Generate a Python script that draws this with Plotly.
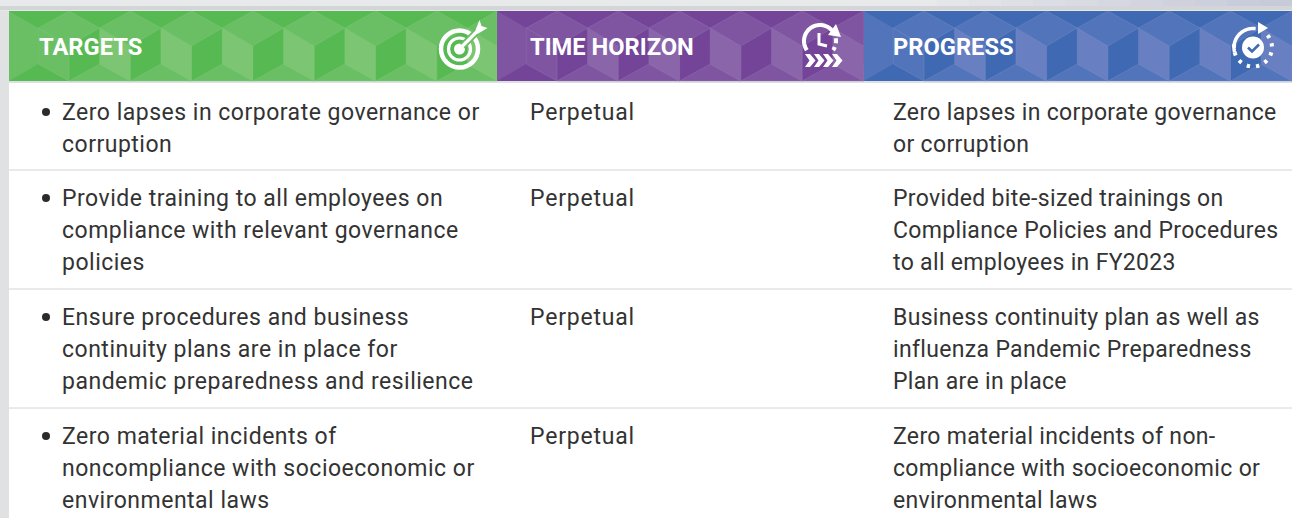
import json
import numpy as np
import plotly.graph_objects as go

# ---------- data ----------
headers = ["TARGETS", "TIME HORIZON", "PROGRESS"]
targets = [
    ["Zero lapses in corporate governance or", "corruption"],
    ["Provide training to all employees on", "compliance with relevant governance", "policies"],
    ["Ensure procedures and business", "continuity plans are in place for", "pandemic preparedness and resilience"],
    ["Zero material incidents of", "noncompliance with socioeconomic or", "environmental laws"],
]
horizons = ["Perpetual", "Perpetual", "Perpetual", "Perpetual"]
progress = [
    ["Zero lapses in corporate governance", "or corruption"],
    ["Provided bite-sized trainings on", "Compliance Policies and Procedures", "to all employees in FY2023"],
    ["Business continuity plan as well as", "influenza Pandemic Preparedness", "Plan are in place"],
    ["Zero material incidents of non-", "compliance with socioeconomic or", "environmental laws"],
]

# ---------- layout constants ----------
W, H = 1292, 518
FONT = "Roboto"
BODY = 23
HEAD = 23.7
TEXT = "#333333"
panels = [
    dict(x0=9, x1=497, tx=36.5, base="#57B952", mid="#6ABF64", light="#7CC673", edge="#80CA78"),
    dict(x0=497, x1=864, tx=527.5, base="#744499", mid="#7F55A2", light="#8A65AA", edge="#9678B4"),
    dict(x0=864, x1=1292, tx=890.5, base="#3F69B2", mid="#5274BB", light="#6880C1", edge="#7A90C8"),
]
row_first_line = [112, 198, 317, 436]
line_step = 32
row_rules = [170, 289, 408]
band_top, band_bot = 11, 81
cube = 61.3

shapes = []


def poly(pts, fill=None, line=None, lw=0):
    d = "M" + " L".join(f"{x:.2f},{y:.2f}" for x, y in pts)
    if fill:
        d += " Z"
    shapes.append(dict(type="path", path=d, xref="x", yref="y",
                       fillcolor=fill or "rgba(0,0,0,0)",
                       line=dict(color=line or "rgba(0,0,0,0)", width=lw)))


def rect(x0, y0, x1, y1, c):
    shapes.append(dict(type="rect", xref="x", yref="y", x0=x0, x1=x1, y0=y0, y1=y1,
                       fillcolor=c, line=dict(width=0), layer="below"))


def arc(cx, cy, r, a0, a1, n=40):
    t = np.radians(np.linspace(a0, a1, n))
    return list(zip(cx + r * np.cos(t), cy - r * np.sin(t)))


def ring(cx, cy, r, lw, color="white"):
    shapes.append(dict(type="circle", xref="x", yref="y", x0=cx - r, x1=cx + r, y0=cy - r, y1=cy + r,
                       fillcolor="rgba(0,0,0,0)", line=dict(color=color, width=lw)))


def disc(cx, cy, r, color="white"):
    shapes.append(dict(type="circle", xref="x", yref="y", x0=cx - r, x1=cx + r, y0=cy - r, y1=cy + r,
                       fillcolor=color, line=dict(width=0)))


# page backdrop
rect(0, 0, W, H, "#FFFFFF")
rect(0, 0, 9, H, "#E0E1E3")
strips = 40
for i in range(strips):
    f = i / (strips - 1)
    g = max(0, (f - 0.72) / 0.28)
    c = f"rgb({int(232 - g * 34)},{int(233 - g * 31)},{int(235 - g * 18)})"
    rect(W * i / strips, 0, W * (i + 1) / strips + 1, 7, c)
rect(0, 6, W, 10, "#D3D5D7")
rect(0, 10, W, 11, "#E6E7E9")
rect(9, 81, W, 83, "#DEDFE2")

# header bands with cube pattern
for p in panels:
    rect(p["x0"], band_top, p["x1"], band_bot, p["base"])
    cx = p["x0"] + 60
    h = cube / 2
    yt, ym1, ym2, yb = band_top, 28, 64, band_bot
    cubes = []
    xc = cx
    while xc - h < p["x1"] + 1:
        cubes.append(xc)
        xc += cube
    clip = lambda x: min(max(x, p["x0"]), p["x1"])
    poly([(p["x0"], yt), (cx - h, ym1), (cx - h, ym2), (p["x0"], yb)], fill=p["mid"])
    for i, c in enumerate(cubes):
        l, r = clip(c - h), clip(c + h)
        m = clip(c)
        lf = p["mid"] if i == 0 else p["light"]
        if m > l:
            poly([(l, ym1), (m, 46), (m, yb), (l, ym2)], fill=lf, line=p["edge"], lw=0.4)
        if r > l:
            poly([(m, yt), (r, ym1), (m, 46), (l, ym1)], fill=p["mid"], line=p["edge"], lw=0.4)
        nx = clip(c + cube)
        if nx > m:
            poly([(m, yb), (r, ym2), (nx, yb)], fill=p["mid"], line=p["edge"], lw=0.4)

# target icon
tcx, tcy = 459.5, 49
ring(tcx, tcy, 18.5, 4.5)
ring(tcx, tcy, 11, 3.2)
disc(tcx, tcy, 5.5)
poly([(tcx + 3, tcy - 3), (tcx + 22, tcy - 22)], line=panels[0]["mid"], lw=7)
poly([(tcx, tcy), (tcx + 20, tcy - 20)], line="white", lw=3.2)
poly([(tcx + 16, tcy - 19), (tcx + 20, tcy - 29), (tcx + 22, tcy - 23), (tcx + 28, tcy - 21), (tcx + 18, tcy - 15)], fill="white")

# clock icon
ccx, ccy = 820, 41
poly(arc(ccx, ccy, 16, 215, 40), line="white", lw=4)
poly(arc(ccx, ccy, 16, 10, -8, 6), line="white", lw=4)
poly(arc(ccx, ccy, 16, -22, -35, 6), line="white", lw=4)
poly([(836, 24), (841, 37), (828, 35)], fill="white")
poly([(ccx - 1, 33), (ccx - 1, 44), (ccx + 7, 46)], line="white", lw=3)
for i in range(4):
    x = 805 + i * 9
    poly([(x, 54), (x + 5, 54), (x + 10.5, 60.5), (x + 5, 67), (x, 67), (x + 4.5, 60.5)], fill="white")

# progress icon
pcx, pcy = 1253, 47.5
disc(pcx, pcy, 11)
poly([(pcx - 5, pcy), (pcx - 1, pcy + 4), (pcx + 6, pcy - 3)], line=panels[2]["base"], lw=2.6)
poly(arc(pcx, pcy, 19, 195, 82), line="white", lw=3.5)
poly([(1258, 22), (1268, 28), (1258, 34)], fill="white")
for a0 in [40, 13, -15, -43, -71, -99, -127, -155, -180]:
    poly(arc(pcx, pcy, 19, a0, a0 - 10, 5), line="white", lw=4)

# row rules
for y in row_rules:
    shapes.append(dict(type="line", xref="x", yref="y", x0=9, x1=W, y0=y, y1=y,
                       line=dict(color="#D2D4D6", width=1)))

# ---------- text ----------
annotations = []
spacing = []


def put(x, y, s, size=BODY, color=TEXT, bold=False, ls=0):
    annotations.append(dict(x=x, y=y, text=f"<b>{s}</b>" if bold else s, xref="x", yref="y",
                            showarrow=False, xanchor="left", yanchor="middle", align="left",
                            font=dict(family=FONT, size=size, color=color)))
    spacing.append(ls)


for p, head in zip(panels, headers):
    put(p["tx"], 47, head, size=HEAD, color="white", bold=True)

for row, y0 in enumerate(row_first_line):
    disc(46, y0, 4, "#2B2B2B")
    for k, s in enumerate(targets[row]):
        put(59.5, y0 + k * line_step, s, ls=0.5)
    put(527.5, y0, horizons[row], ls=0.8)
    for k, s in enumerate(progress[row]):
        put(890.5, y0 + k * line_step, s, ls=0.33)

fig = go.Figure()
fig.update_layout(
    width=W, height=H, margin=dict(l=0, r=0, t=0, b=0),
    paper_bgcolor="white", plot_bgcolor="white", showlegend=False,
    xaxis=dict(range=[0, W], visible=False, fixedrange=True),
    yaxis=dict(range=[H, 0], visible=False, fixedrange=True),
    shapes=shapes, annotations=annotations,
)
fig.write_html(
    "out.html",
    config={"displayModeBar": False},
    post_script=(
        "document.body.style.margin='0';document.body.style.overflow='hidden';"
        "var ls=" + json.dumps(spacing) + ";"
        "document.querySelectorAll('.annotation-text').forEach(function(t,i){"
        "t.style.letterSpacing=ls[i]+'px';});"
    ),
)
